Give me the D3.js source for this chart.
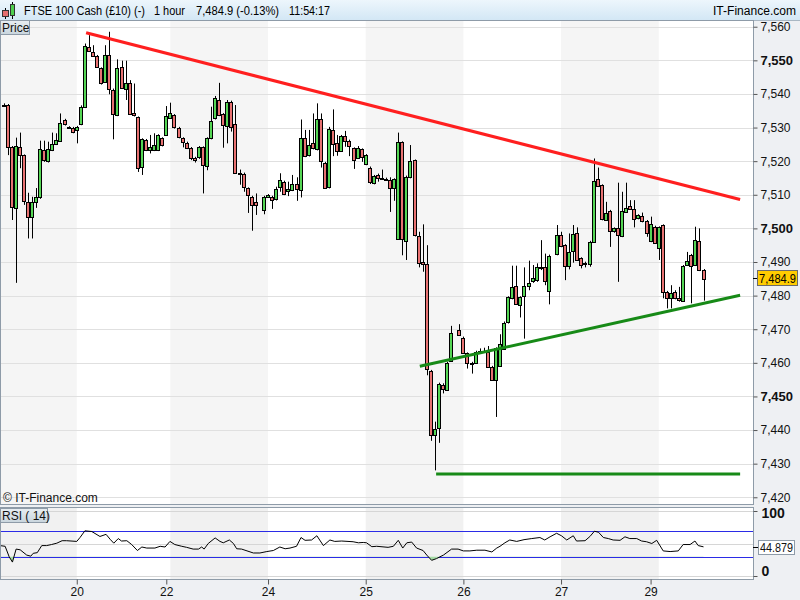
<!DOCTYPE html>
<html>
<head>
<meta charset="UTF-8">
<title>FTSE 100 Cash</title>
<script src="https://cdn.jsdelivr.net/npm/d3@7"></script>
<style>
body{margin:0;background:#fff;}
svg{display:block;font-family:"Liberation Sans",Arial,sans-serif;}
</style>
</head>
<body>
<svg id="chart" width="800" height="600"></svg>
<script>
// hourly slots, three missing hours
var gaps = [63, 111, 135];
var slots = d3.range(0, 173).filter(function(s){ return gaps.indexOf(s) < 0; });

var opens = [7536.8,7536.7,7524.3,7506.2,7524.3,7521.8,7507.9,7503.5,7507.7,7509.2,
7523.3,7520.0,7523.3,7525.1,7526.2,7532.2,7530.1,7530.0,7529.4,7531.0,
7536.1,7554.0,7552.6,7551.3,7547.6,7543.6,7551.6,7541.3,7533.7,7548.1,
7541.6,7543.4,7534.2,7533.0,7518.3,7526.3,7523.3,7523.3,7523.3,7526.8,
7527.8,7533.0,7533.7,7529.9,7526.8,7525.5,7523.9,7521.0,7521.0,7524.1,
7518.5,7526.8,7532.7,7538.2,7534.0,7530.4,7537.7,7531.2,7516.5,7516.3,
7511.9,7509.4,7507.9,
7505.6,7509.4,7509.4,7508.6,7512.2,7513.9,
7510.9,7511.4,7513.1,7511.6,7526.8,7521.7,7525.3,7523.5,7532.4,7519.5,
7512.4,7529.4,7525.5,7523.2,7527.5,7526.1,7523.8,7521.1,7523.5,7519.1,
7518.1,7513.4,7516.0,7514.9,7514.8,7514.4,7511.9,7497.0,7525.6,7496.4,
7515.2,7520.3,7497.7,7490.1,7489.4,7457.6,7438.5,7440.5,7453.4,7451.9,7460.8,
7469.9,7467.5,7462.8,7460.0,7460.0,7463.2,7463.4,7463.3,
7458.8,7454.9,7459.1,7464.3,7472.0,7479.2,7482.9,7477.1,7480.1,7482.9,
7484.1,7484.4,7488.4,7488.6,7481.4,
7492.3,7497.9,7495.0,7488.8,
7493.0,7498.7,7491.1,7489.8,7489.6,7496.0,7514.6,7512.8,7502.5,7505.2,
7499.0,7500.0,7497.7,7505.1,7506.7,7505.9,7503.0,7503.7,7502.2,7496.2,
7500.5,7494.0,7500.9,7481.1,7479.2,7481.1,7479.2,7478.5,7489.3,7492.1,
7489.1,7496.2,7487.6];

var highs = [7537.2,7537.0,7524.5,7527.0,7528.5,7522.0,7510.6,7509.4,7512.0,7526.1,
7526.1,7525.8,7528.5,7528.3,7534.2,7532.6,7530.4,7530.2,7530.5,7536.6,
7555.0,7557.5,7554.5,7551.6,7547.9,7554.5,7558.5,7541.6,7550.3,7549.9,
7549.9,7544.1,7543.1,7533.3,7526.8,7526.6,7527.8,7528.3,7528.0,7527.1,
7536.4,7537.4,7534.0,7530.2,7527.1,7525.8,7524.2,7521.3,7524.5,7524.4,
7527.1,7536.2,7539.4,7543.3,7534.3,7538.2,7538.0,7536.7,7517.5,7516.6,
7512.2,7509.7,7510.4,
7509.7,7510.2,7509.7,7512.4,7516.4,7514.2,
7513.9,7515.9,7515.2,7532.4,7529.3,7529.3,7534.2,7537.2,7534.2,7519.8,
7530.2,7535.4,7527.8,7527.8,7529.0,7526.4,7524.1,7524.5,7523.8,7522.1,
7518.4,7515.9,7516.3,7517.5,7515.1,7515.2,7514.9,7528.5,7525.9,7515.7,
7524.8,7520.5,7499.0,7501.2,7495.0,7457.9,7442.5,7454.1,7453.9,7460.3,7471.0,
7471.5,7467.8,7463.1,7460.3,7463.6,7464.3,7464.5,7465.0,
7459.1,7464.6,7468.5,7472.3,7479.8,7488.9,7488.9,7479.8,7488.4,7490.4,
7489.1,7489.6,7496.5,7492.5,7492.2,
7501.0,7499.0,7495.3,7498.5,
7501.0,7500.3,7491.4,7490.1,7496.3,7520.8,7518.1,7513.1,7507.9,7505.5,
7500.3,7513.6,7510.9,7513.6,7508.4,7508.4,7504.2,7504.7,7502.5,7503.5,
7500.8,7500.6,7501.2,7481.4,7483.1,7481.6,7482.6,7489.1,7493.0,7492.4,
7500.5,7500.0,7487.9];

var lows = [7536.3,7521.8,7502.5,7483.8,7517.9,7507.0,7497.0,7497.0,7506.1,7508.8,
7519.8,7519.6,7523.0,7524.8,7525.9,7530.6,7529.6,7528.3,7525.3,7530.7,
7535.8,7552.5,7551.0,7547.8,7542.8,7543.3,7539.9,7526.5,7533.4,7541.5,
7538.2,7534.0,7533.3,7516.8,7515.9,7523.0,7522.3,7523.0,7523.0,7524.4,
7527.5,7532.7,7529.7,7526.8,7524.1,7523.6,7520.3,7519.6,7520.7,7510.4,
7517.3,7526.5,7532.4,7533.4,7524.0,7525.3,7528.8,7516.2,7513.0,7510.9,
7504.6,7499.3,7504.0,
7504.2,7509.1,7505.8,7508.3,7510.9,7509.9,
7509.6,7511.1,7508.2,7509.2,7521.2,7521.4,7523.5,7523.2,7518.1,7511.8,
7511.9,7521.5,7521.6,7522.9,7524.3,7521.5,7517.7,7520.8,7519.8,7518.8,
7513.2,7513.1,7513.9,7514.4,7514.1,7504.9,7508.2,7496.7,7492.0,7490.6,
7514.9,7497.6,7488.4,7487.1,7456.3,7436.8,7428.0,7436.2,7450.9,7451.7,7460.5,
7468.0,7462.7,7458.3,7456.8,7459.7,7463.0,7463.1,7458.5,
7454.6,7443.9,7458.8,7464.0,7471.7,7478.9,7477.2,7473.5,7467.2,7481.6,
7483.8,7484.1,7487.6,7483.1,7477.4,
7492.0,7494.4,7484.6,7487.8,
7489.8,7490.5,7488.1,7488.4,7488.6,7495.7,7512.3,7502.4,7502.2,7494.5,
7498.7,7484.1,7497.4,7504.8,7505.6,7500.3,7502.7,7501.8,7497.5,7495.9,
7495.4,7490.6,7479.2,7476.2,7476.2,7478.9,7478.2,7478.2,7489.0,7477.7,
7488.8,7487.3,7478.5];

var closes = [7536.6,7524.3,7506.5,7524.5,7522.0,7508.2,7503.3,7507.9,7509.2,7523.5,
7520.3,7523.5,7525.0,7526.2,7531.5,7530.9,7529.9,7528.7,7530.3,7536.2,
7554.2,7552.8,7551.3,7548.1,7543.1,7551.5,7541.6,7534.2,7547.6,7541.8,
7543.4,7534.2,7533.6,7517.8,7526.5,7523.3,7524.3,7524.9,7527.9,7524.7,
7533.5,7534.4,7530.0,7527.1,7525.5,7523.9,7520.9,7520.3,7524.1,7518.8,
7526.8,7531.9,7538.7,7533.7,7530.7,7537.5,7530.4,7516.5,7516.2,7512.4,
7509.7,7506.9,7506.9,
7509.4,7509.9,7508.4,7511.6,7514.4,7510.4,
7511.6,7513.1,7511.6,7527.0,7521.5,7524.7,7523.8,7532.4,7519.9,7512.2,
7529.7,7525.3,7523.0,7527.6,7526.0,7524.5,7520.3,7524.0,7521.2,7521.9,
7513.8,7515.6,7515.0,7514.7,7514.4,7512.0,7514.6,7525.8,7496.7,7515.4,
7520.1,7497.9,7489.8,7489.4,7458.1,7438.7,7440.2,7453.6,7452.1,7460.0,7469.0,
7468.3,7463.0,7459.8,7459.8,7463.3,7463.4,7463.3,7458.8,
7454.9,7464.3,7465.5,7472.0,7479.5,7482.6,7477.4,7479.5,7483.0,7483.9,
7485.1,7488.4,7488.2,7484.4,7491.9,
7498.1,7494.7,7488.9,7493.0,
7498.2,7490.8,7489.1,7489.4,7496.0,7514.1,7512.6,7502.7,7504.6,7499.2,
7500.0,7498.0,7505.1,7506.2,7505.9,7502.9,7503.9,7502.1,7498.5,7501.2,
7495.7,7500.3,7481.1,7479.2,7480.8,7479.4,7478.5,7488.8,7490.4,7488.8,
7496.5,7487.6,7484.9];

// RSI(14) vertices
var rsiSlots = [-0.9,0.4,1.4,2.2,3.1,4.1,5.7,6.7,7.3,8.3,9.4,10.6,11.8,13.1,14.4,15.5,18,18.8,20,21.7,
23.7,25.2,26.2,27.1,28.2,29,30.3,31.5,32.9,34,35.2,37.2,38.5,39.7,40.9,42.1,43.8,45,46.6,47.9,
48.7,49.3,50.3,52,53.2,54,55.5,56.5,57.3,58.5,61.4,63,64.7,66.3,67.9,69.2,70.4,72,73.1,74.1,
75.7,77,78.6,80.2,81.4,83.1,85.9,87.2,88.4,89.2,90.5,91.7,94.5,95.8,97,
98.1,99.1,100.3,101.5,103.1,104,105.2,106.4,108.1,110.1,111.7,113,114.6,116.3,118.3,120,121.2,122,123.2,124.4,
126.1,127.9,129.8,131.8,133,134.3,135.9,137.1,138.4,140,140.8,142.9,144.1,145.2,146.2,147.4,148.6,149.8,151.5,152.7,
153.9,155.6,156.8,158,159.3,160.5,162.1,163.8,165.8,167,168.7,169.9,170.7,172];
var rsiValues = [46.8,45.7,29.5,21.4,41.4,40.3,32.2,30.5,34.9,35.9,46.8,46.8,48.4,50.5,54.3,54.3,53.2,59.2,69.5,68.4,
60.8,64.1,56.5,50.5,57.6,53.8,54.3,48.4,39.2,44.6,43.0,43.0,45.7,44.6,53.2,48.4,45.7,44.1,41.4,41.4,
44.6,41.4,50.0,58.6,53.2,51.1,55.4,50.0,41.9,41.4,35.4,35.4,37.6,39.2,44.6,41.9,43.0,45.7,59.2,54.9,
55.4,61.9,46.8,55.4,53.2,53.8,52.7,51.1,51.6,51.1,45.1,45.7,44.1,45.7,54.9,
43.0,51.1,52.2,43.0,39.2,32.2,24.1,26.8,32.2,41.4,41.4,38.6,38.6,39.7,39.7,37.0,43.0,45.7,51.1,55.4,
53.2,55.9,57.6,59.2,55.4,60.3,65.7,61.9,55.4,61.9,53.8,54.3,60.8,68.9,67.3,59.2,57.6,55.4,54.9,60.3,
57.6,57.6,53.8,52.7,50.0,54.9,38.6,37.6,38.6,48.4,48.4,53.8,46.8,44.879];

// day separators and date labels
var dayEdges = [18, 41, 65, 89, 113, 137, 161];
var dayTicks = [18, 40, 65, 89, 113, 137, 159];
var dayLabels = ["20", "22", "24", "25", "26", "27", "29"];

var priceTicks = d3.range(7420, 7561, 10);
var lastPrice = 7484.9;
var lastRsi = 44.879;

// drawn trend lines [slot, price]
var resistance = [[20.3, 7558.2], [181, 7508.6]];
var support = [[102.3, 7459.0], [181, 7480.1]];
var floorLine = [[106.3, 7426.9], [181, 7426.9]];

var svg = d3.select("#chart");
var W = 800, H = 600;

var x = d3.scaleLinear().domain([0, 172]).range([3.5, 703.5]);
var y = d3.scaleLinear().domain([7418, 7562]).range([504, 20]);
var yR = d3.scaleLinear().domain([0, 100]).range([576, 511]);

var defs = svg.append("defs");
var hg = defs.append("linearGradient").attr("id", "hdr").attr("x1", 0).attr("y1", 0).attr("x2", 0).attr("y2", 1);
hg.append("stop").attr("offset", 0).attr("stop-color", "#edf6fc");
hg.append("stop").attr("offset", 1).attr("stop-color", "#d3e7f5");
var lg = defs.append("linearGradient").attr("id", "lbl").attr("x1", 0).attr("y1", 0).attr("x2", 0).attr("y2", 1);
lg.append("stop").attr("offset", 0).attr("stop-color", "#e8eef2");
lg.append("stop").attr("offset", 1).attr("stop-color", "#c9d5dd");
defs.append("clipPath").attr("id", "clipP").append("rect").attr("x", 1).attr("y", 21).attr("width", 752).attr("height", 483);
defs.append("clipPath").attr("id", "clipR").append("rect").attr("x", 1).attr("y", 508).attr("width", 752).attr("height", 71);
defs.append("clipPath").attr("id", "clipLow").append("rect").attr("x", 1).attr("y", yR(30)).attr("width", 752).attr("height", 60);

// background
svg.append("rect").attr("width", W).attr("height", H).attr("fill", "#eef0f3");

// header
svg.append("rect").attr("width", W).attr("height", 20).attr("fill", "url(#hdr)");
svg.append("line").attr("x1", 0).attr("x2", W).attr("y1", 20.5).attr("y2", 20.5).attr("stroke", "#a9b7c3");
var icon = svg.append("g");
icon.append("line").attr("x1", 5.5).attr("x2", 5.5).attr("y1", 8).attr("y2", 19).attr("stroke", "#000");
icon.append("rect").attr("x", 2.5).attr("y", 10.5).attr("width", 6).attr("height", 6).attr("fill", "#e56f6f").attr("stroke", "#333");
icon.append("line").attr("x1", 12.5).attr("x2", 12.5).attr("y1", 2).attr("y2", 19).attr("stroke", "#000");
icon.append("rect").attr("x", 10.5).attr("y", 4.5).attr("width", 4).attr("height", 11).attr("fill", "#4fcf4f").attr("stroke", "#333");
// [text, left x, width]
var head = [["FTSE 100 Cash (£10) (-)", 24, 121], ["1 hour", 154, 31], ["7,484.9 (-0.13%)", 196, 83], ["11:54:17", 289, 41]];
svg.selectAll("text.hd").data(head).enter().append("text").attr("class", "hd")
  .attr("x", function(d){ return d[1]; }).attr("y", 15)
  .attr("font-size", 12).attr("fill", "#000")
  .attr("textLength", function(d){ return d[2]; }).attr("lengthAdjust", "spacingAndGlyphs")
  .text(function(d){ return d[0]; });
svg.append("text").attr("x", 713).attr("y", 15)
  .attr("font-size", 12).attr("fill", "#000")
  .attr("textLength", 83).attr("lengthAdjust", "spacingAndGlyphs").text("IT-Finance.com");

// ---- price panel
svg.append("rect").attr("x", 0.5).attr("y", 20.5).attr("width", 753).attr("height", 484)
  .attr("fill", "#fff").attr("stroke", "#8e9ba8");

function bandList(top, bottom) {
  var px = [1].concat(dayEdges.map(x)).concat([753]);
  var out = [];
  for (var i = 0; i < px.length - 1; i++) {
    if (i % 2 === 0) out.push({x0: px[i], x1: px[i+1], y0: top, y1: bottom});
  }
  return out;
}
svg.append("g").selectAll("rect").data(bandList(21, 504)).enter().append("rect")
  .attr("x", function(d){ return d.x0; }).attr("y", function(d){ return d.y0; })
  .attr("width", function(d){ return d.x1 - d.x0; }).attr("height", function(d){ return d.y1 - d.y0; })
  .attr("fill", "#f5f5f5");

svg.append("g").selectAll("line").data(priceTicks).enter().append("line")
  .attr("x1", 1).attr("x2", 753)
  .attr("y1", function(d){ return Math.round(y(d)) + 0.5; })
  .attr("y2", function(d){ return Math.round(y(d)) + 0.5; })
  .attr("stroke", "#e0e0e0");

var candles = slots.map(function(s, i){
  return {s: s, o: opens[i], h: highs[i], l: lows[i], c: closes[i]};
});
var cg = svg.append("g").attr("clip-path", "url(#clipP)");
cg.selectAll("line.wick").data(candles).enter().append("line").attr("class", "wick")
  .attr("x1", function(d){ return Math.round(x(d.s)) + 0.5; })
  .attr("x2", function(d){ return Math.round(x(d.s)) + 0.5; })
  .attr("y1", function(d){ return y(d.h); }).attr("y2", function(d){ return y(d.l); })
  .attr("stroke", "#000").attr("stroke-width", 1);
cg.selectAll("rect.body").data(candles).enter().append("rect").attr("class", "body")
  .attr("x", function(d){ return Math.round(x(d.s)) - 1.5; })
  .attr("width", 3)
  .attr("y", function(d){ return Math.round(y(Math.max(d.o, d.c))) + 0.5; })
  .attr("height", function(d){ return Math.max(0.5, Math.round(Math.abs(y(d.o) - y(d.c)))); })
  .attr("fill", function(d){ return d.c >= d.o ? "#55d655" : "#e87272"; })
  .attr("stroke", "#000").attr("stroke-width", 1);

var tl = d3.line().x(function(d){ return x(d[0]); }).y(function(d){ return y(d[1]); });
cg.append("path").attr("d", tl(resistance)).attr("stroke", "#ff1f1f").attr("stroke-width", 3.2).attr("fill", "none");
cg.append("path").attr("d", tl(support)).attr("stroke", "#178a17").attr("stroke-width", 3).attr("fill", "none");
cg.append("path").attr("d", tl(floorLine)).attr("stroke", "#178a17").attr("stroke-width", 3).attr("fill", "none");

// price axis
var pAxis = svg.append("g").attr("transform", "translate(753.5,0)")
  .call(d3.axisRight(y).tickValues(priceTicks).tickSize(4).tickPadding(3).tickFormat(d3.format(",")));
pAxis.select(".domain").remove();
pAxis.selectAll(".tick line").attr("stroke", "#555");
pAxis.selectAll("text").attr("font-family", "Liberation Sans, Arial, sans-serif")
  .attr("fill", "#111")
  .attr("font-weight", function(d){ return d % 50 === 0 ? "bold" : "normal"; })
  .attr("font-size", function(d){ return d % 50 === 0 ? 13 : 12; });

// last price marker
var ly = Math.round(y(lastPrice)) - 1;
svg.append("line").attr("x1", 753).attr("x2", 758).attr("y1", ly + 0.5).attr("y2", ly + 0.5).attr("stroke", "#000");
svg.append("rect").attr("x", 757.5).attr("y", ly - 7.5).attr("width", 40).attr("height", 15)
  .attr("fill", "#ffcc00").attr("stroke", "#6b6b6b");
svg.append("text").attr("x", 759).attr("y", ly + 4.5).attr("font-size", 12).attr("fill", "#000")
  .attr("textLength", 37).attr("lengthAdjust", "spacingAndGlyphs")
  .text(d3.format(",.1f")(lastPrice));

// labels inside price panel
svg.append("rect").attr("x", 0.5).attr("y", 20.5).attr("width", 29).attr("height", 14)
  .attr("fill", "url(#lbl)").attr("stroke", "#8e9ba8");
svg.append("text").attr("x", 2).attr("y", 32).attr("font-size", 12).attr("fill", "#111").text("Price");
svg.append("text").attr("x", 3).attr("y", 502).attr("font-size", 12).attr("fill", "#111").text("© IT-Finance.com");

// ---- RSI panel
svg.append("rect").attr("x", 0.5).attr("y", 507.5).attr("width", 753).attr("height", 72)
  .attr("fill", "#fff").attr("stroke", "#8e9ba8");
svg.append("g").selectAll("rect").data(bandList(508, 579)).enter().append("rect")
  .attr("x", function(d){ return d.x0; }).attr("y", function(d){ return d.y0; })
  .attr("width", function(d){ return d.x1 - d.x0; }).attr("height", function(d){ return d.y1 - d.y0; })
  .attr("fill", "#f1f1f1");
svg.append("g").selectAll("line").data([100, 50, 0]).enter().append("line")
  .attr("x1", 1).attr("x2", 753)
  .attr("y1", function(d){ return Math.round(yR(d)) + 0.5; })
  .attr("y2", function(d){ return Math.round(yR(d)) + 0.5; })
  .attr("stroke", "#d6d6d6");
svg.append("g").selectAll("line").data([70, 30]).enter().append("line")
  .attr("x1", 1).attr("x2", 753)
  .attr("y1", function(d){ return Math.round(yR(d)) + 0.5; })
  .attr("y2", function(d){ return Math.round(yR(d)) + 0.5; })
  .attr("stroke", "#2b2be6").attr("stroke-width", 1);

var rsiPts = rsiSlots.map(function(s, i){ return [s, rsiValues[i]]; });
var rg = svg.append("g").attr("clip-path", "url(#clipR)");
rg.append("g").attr("clip-path", "url(#clipLow)").append("path")
  .attr("d", d3.area().x(function(d){ return x(d[0]); }).y0(yR(30)).y1(function(d){ return yR(d[1]); })(rsiPts))
  .attr("fill", "#a6dca6");
rg.append("path")
  .attr("d", d3.line().x(function(d){ return x(d[0]); }).y(function(d){ return yR(d[1]); })(rsiPts))
  .attr("fill", "none").attr("stroke", "#000").attr("stroke-width", 1);

svg.append("rect").attr("x", 0.5).attr("y", 508.5).attr("width", 47).attr("height", 14)
  .attr("fill", "url(#lbl)").attr("stroke", "#8e9ba8");
svg.append("text").attr("x", 2).attr("y", 520).attr("font-size", 12).attr("fill", "#111").text("RSI ( 14)");

var rAxis = svg.append("g").attr("transform", "translate(753.5,0)")
  .call(d3.axisRight(yR).tickValues([0, 100]).tickSize(4).tickPadding(4));
rAxis.select(".domain").remove();
rAxis.selectAll(".tick line").attr("stroke", "#555");
rAxis.selectAll("text").attr("font-size", 14).attr("font-weight", "bold")
  .attr("font-family", "Liberation Sans, Arial, sans-serif").attr("fill", "#111")
  .attr("dy", function(d){ return d === 0 ? "-0.05em" : "0.45em"; });

var ry = Math.round(yR(lastRsi));
svg.append("line").attr("x1", 753).attr("x2", 758).attr("y1", ry + 0.5).attr("y2", ry + 0.5).attr("stroke", "#000");
svg.append("rect").attr("x", 758.5).attr("y", ry - 6.5).attr("width", 36).attr("height", 14)
  .attr("fill", "#fff").attr("stroke", "#8e9ba8");
svg.append("text").attr("x", 760).attr("y", ry + 4.5).attr("font-size", 12).attr("fill", "#111")
  .attr("textLength", 33).attr("lengthAdjust", "spacingAndGlyphs").text(lastRsi);

// date axis
var xAxis = svg.append("g").attr("transform", "translate(0,579.5)")
  .call(d3.axisBottom(x).tickValues(dayTicks).tickSize(5).tickPadding(3)
    .tickFormat(function(d, i){ return dayLabels[i]; }));
xAxis.select(".domain").remove();
xAxis.selectAll(".tick line").attr("stroke", "#555");
xAxis.selectAll("text").attr("font-size", 12).attr("fill", "#111")
  .attr("font-family", "Liberation Sans, Arial, sans-serif");
</script>
</body>
</html>
